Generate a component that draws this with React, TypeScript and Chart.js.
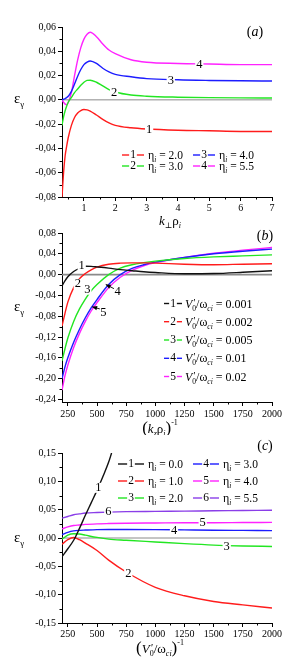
import React, { useEffect, useRef } from 'react';
import { Chart, registerables } from 'chart.js';
Chart.register(...registerables);

// ---------- data: panel (a) ----------
const A_X = [0.3, 0.35, 0.4, 0.45, 0.5, 0.6, 0.7, 0.8, 0.9, 1.0, 1.1, 1.2, 1.4, 1.6, 1.8, 2.0, 2.5, 3.0, 4.0, 5.0, 6.0, 7.0];
const A_ETA_20 = [-0.08, -0.06, -0.046, -0.038, -0.031, -0.021, -0.0145, -0.0108, -0.0088, -0.008, -0.0082, -0.0092, -0.0125, -0.016, -0.019, -0.021, -0.023, -0.024, -0.025, -0.0255, -0.026, -0.026];
const A_ETA_30 = [-0.021, -0.014, -0.009, -0.005, -0.002, 0.002, 0.006, 0.009, 0.012, 0.0145, 0.016, 0.0162, 0.0145, 0.0115, 0.0085, 0.0065, 0.004, 0.003, 0.0022, 0.0018, 0.0016, 0.0015];
const A_ETA_40 = [0.0, 0.0005, 0.001, 0.002, 0.003, 0.007, 0.013, 0.0195, 0.025, 0.029, 0.031, 0.032, 0.030, 0.026, 0.023, 0.021, 0.019, 0.0175, 0.0165, 0.016, 0.0157, 0.0155];
const A_ETA_55 = [0.0, -0.002, -0.0035, -0.004, -0.002, 0.006, 0.02, 0.033, 0.043, 0.05, 0.054, 0.0557, 0.052, 0.046, 0.041, 0.038, 0.033, 0.031, 0.030, 0.0295, 0.029, 0.029];
const A_X_TICKS = [1, 2, 3, 4, 5, 6, 7];
const A_X_MINOR = [0.5, 1.5, 2.5, 3.5, 4.5, 5.5, 6.5];
const A_Y_TICKS = [-0.08, -0.06, -0.04, -0.02, 0, 0.02, 0.04, 0.06];
const A_Y_MINOR = [-0.07, -0.05, -0.03, -0.01, 0.01, 0.03, 0.05];

// ---------- data: panel (b) ----------
const B_X = [200, 225, 250, 300, 350, 400, 450, 500, 600, 700, 800, 900, 1000, 1250, 1500, 1750, 2000];
const B_V_0001 = [-0.022, -0.012, -0.004, 0.006, 0.012, 0.016, 0.0158, 0.0148, 0.0125, 0.0095, 0.0075, 0.0055, 0.004, 0.0015, 0.002, 0.0045, 0.0075];
const B_V_0002 = [-0.099, -0.075, -0.053, -0.025, -0.008, 0.002, 0.009, 0.0145, 0.02, 0.022, 0.0225, 0.0225, 0.022, 0.02, 0.019, 0.02, 0.021];
const B_V_0005 = [-0.166, -0.143, -0.122, -0.09, -0.066, -0.047, -0.031, -0.019, 0.0, 0.0125, 0.019, 0.023, 0.026, 0.031, 0.034, 0.036, 0.038];
const B_V_001 = [-0.2, -0.178, -0.16, -0.13, -0.105, -0.083, -0.064, -0.048, -0.019, 0.0, 0.012, 0.019, 0.024, 0.033, 0.04, 0.045, 0.049];
const B_V_002 = [-0.222, -0.195, -0.174, -0.14, -0.113, -0.09, -0.07, -0.054, -0.025, -0.005, 0.008, 0.017, 0.023, 0.033, 0.041, 0.047, 0.052];
const BC_X_TICKS = [250, 500, 750, 1000, 1250, 1500, 1750, 2000];
const BC_X_MINOR = [375, 625, 875, 1125, 1375, 1625, 1875];
const B_Y_TICKS = [-0.24, -0.2, -0.16, -0.12, -0.08, -0.04, 0, 0.04, 0.08];
const B_Y_MINOR = [-0.22, -0.18, -0.14, -0.1, -0.06, -0.02, 0.02, 0.06];

// ---------- data: panel (c) ----------
const C_X1 = [200, 250, 300, 350, 400, 450, 500, 550, 600, 625];
const C_ETA_00 = [-0.033, -0.019, -0.004, 0.017, 0.04, 0.062, 0.084, 0.108, 0.134, 0.15];
const C_X = [200, 250, 300, 350, 400, 500, 600, 750, 1000, 1250, 1500, 1750, 2000];
const C_ETA_10 = [-0.011, -0.003, 0.001, -0.003, -0.009, -0.022, -0.039, -0.06, -0.087, -0.102, -0.112, -0.118, -0.1235];
const C_ETA_20 = [-0.002, 0.005, 0.0075, 0.007, 0.005, 0.001, -0.002, -0.004, -0.007, -0.01, -0.0125, -0.014, -0.015];
const C_ETA_30 = [0.006, 0.01, 0.0125, 0.0135, 0.014, 0.0148, 0.015, 0.015, 0.0148, 0.0143, 0.0138, 0.0134, 0.013];
const C_ETA_40 = [0.016, 0.0195, 0.022, 0.023, 0.024, 0.025, 0.0255, 0.026, 0.0265, 0.027, 0.027, 0.0273, 0.0275];
const C_ETA_55 = [0.035, 0.038, 0.041, 0.0425, 0.044, 0.045, 0.0457, 0.0465, 0.047, 0.0475, 0.048, 0.0485, 0.049];
const C_Y_TICKS = [-0.15, -0.1, -0.05, 0, 0.05, 0.1, 0.15];
const C_Y_MINOR = [-0.125, -0.075, -0.025, 0.025, 0.075, 0.125];

const RED = '#ff1c1c';
const GREEN = '#22e622';
const BLUE = '#1c1cff';
const MAG = '#ff22ff';
const BLACK = '#111111';
const PURPLE = '#8a3ee8';

const SERIF = '"Liberation Serif", "DejaVu Serif", serif';

type Seg = { t: string; s: number; i?: boolean; dy?: number; dx?: number; na?: boolean };

const fnt = (s: number, i?: boolean) => `${i ? 'italic ' : ''}${s}px ${SERIF}`;

function drawRich(ctx: CanvasRenderingContext2D, segs: Seg[], x: number, y: number, align: 'left' | 'center' | 'right') {
  let w = 0;
  for (const g of segs) {
    ctx.font = fnt(g.s, g.i);
    if (!g.na) w += ctx.measureText(g.t).width;
  }
  let cx = align === 'center' ? x - w / 2 : align === 'right' ? x - w : x;
  ctx.textAlign = 'left';
  ctx.textBaseline = 'alphabetic';
  ctx.fillStyle = '#000';
  for (const g of segs) {
    ctx.font = fnt(g.s, g.i);
    ctx.fillText(g.t, cx + (g.dx || 0), y + (g.dy || 0));
    if (!g.na) cx += ctx.measureText(g.t).width;
  }
}

const eta = (v: string): Seg[] => [
  { t: 'η', s: 12 },
  { t: 'i', s: 7.5, i: true, dy: 3 },
  { t: ' = ' + v, s: 11.5 },
];
const vRatio = (v: string): Seg[] => [
  { t: 'V', s: 12, i: true },
  { t: "'", s: 10, i: true, dy: -2, dx: 0.5, na: true },
  { t: '0', s: 7.5, dy: 3 },
  { t: '/', s: 12 },
  { t: 'ω', s: 12 },
  { t: 'ci', s: 7.5, i: true, dy: 3 },
  { t: ' = ' + v, s: 12 },
];

const PANELS: any[] = [
  {
    key: 'a', top: 0, height: 232, padTop: 27, xAxisH: 35, xPad: 1, zeroW: 1,
    xMin: 0.3, xMax: 7, yMin: -0.08, yMax: 0.06,
    xTicks: A_X_TICKS, xMinor: A_X_MINOR, yTicks: A_Y_TICKS, yMinor: A_Y_MINOR,
    series: [
      { x: A_X, y: A_ETA_20, color: RED },
      { x: A_X, y: A_ETA_30, color: GREEN },
      { x: A_X, y: A_ETA_40, color: BLUE },
      { x: A_X, y: A_ETA_55, color: MAG },
    ],
    labels: [
      { t: '1', x: 3.08, y: -0.0245 },
      { t: '2', x: 1.96, y: 0.0062 },
      { t: '3', x: 3.77, y: 0.0158 },
      { t: '4', x: 4.68, y: 0.0293 },
    ],
    arrows: [],
    legend: {
      cols: [122, 193], rows: [155, 166], symW: 22, gap: 4,
      entries: [
        { n: '1', color: RED, col: 0, row: 0, segs: eta('2.0') },
        { n: '2', color: GREEN, col: 0, row: 1, segs: eta('3.0') },
        { n: '3', color: BLUE, col: 1, row: 0, segs: eta('4.0') },
        { n: '4', color: MAG, col: 1, row: 1, segs: eta('5.5') },
      ],
    },
    title: { x: 255, y: 36, letter: 'a' },
    yTitleY: 99,
    xTitle: { x: 170, y: 225, segs: [
      { t: 'k', s: 13, i: true }, { t: '⊥', s: 8, dy: 3 }, { t: 'ρ', s: 13 }, { t: 'i', s: 8, i: true, dy: 3 },
    ] },
  },
  {
    key: 'b', top: 210, height: 225, padTop: 23, xAxisH: 33, xPad: 2, zeroW: 1.6,
    xMin: 200, xMax: 2000, yMin: -0.245, yMax: 0.08,
    xTicks: BC_X_TICKS, xMinor: BC_X_MINOR, yTicks: B_Y_TICKS, yMinor: B_Y_MINOR,
    series: [
      { x: B_X, y: B_V_0001, color: BLACK },
      { x: B_X, y: B_V_0002, color: RED },
      { x: B_X, y: B_V_0005, color: GREEN },
      { x: B_X, y: B_V_001, color: BLUE },
      { x: B_X, y: B_V_002, color: MAG },
    ],
    labels: [
      { t: '1', x: 369, y: 0.0174 },
      { t: '2', x: 335, y: -0.018 },
      { t: '3', x: 417, y: -0.029 },
      { t: '4', x: 677, y: -0.033 },
      { t: '5', x: 554, y: -0.073 },
    ],
    arrows: [
      { x1: 645, y1: -0.027, x2: 575, y2: -0.019 },
      { x1: 524, y1: -0.066, x2: 458, y2: -0.062 },
    ],
    legend: {
      cols: [164], rows: [303.5, 321.7, 340, 358.3, 376.5], symW: 18, gap: 3,
      entries: [
        { n: '1', color: BLACK, col: 0, row: 0, segs: vRatio('0.001') },
        { n: '2', color: RED, col: 0, row: 1, segs: vRatio('0.002') },
        { n: '3', color: GREEN, col: 0, row: 2, segs: vRatio('0.005') },
        { n: '4', color: BLUE, col: 0, row: 3, segs: vRatio('0.01') },
        { n: '5', color: MAG, col: 0, row: 4, segs: vRatio('0.02') },
      ],
    },
    title: { x: 265, y: 240, letter: 'b' },
    yTitleY: 307,
    xTitle: { x: 160, y: 433, segs: [
      { t: '(', s: 17 }, { t: 'k', s: 13, i: true }, { t: 'z', s: 8, i: true, dy: 3 }, { t: 'ρ', s: 13 },
      { t: 'i', s: 8, i: true, dy: 3 }, { t: ')', s: 17 }, { t: '-1', s: 8, dy: -8 },
    ] },
  },
  {
    key: 'c', top: 430, height: 234, padTop: 23, xAxisH: 41, xPad: 1, zeroW: 1,
    xMin: 200, xMax: 2000, yMin: -0.15, yMax: 0.15,
    xTicks: BC_X_TICKS, xMinor: BC_X_MINOR, yTicks: C_Y_TICKS, yMinor: C_Y_MINOR,
    series: [
      { x: C_X1, y: C_ETA_00, color: BLACK },
      { x: C_X, y: C_ETA_10, color: RED },
      { x: C_X, y: C_ETA_20, color: GREEN },
      { x: C_X, y: C_ETA_30, color: BLUE },
      { x: C_X, y: C_ETA_40, color: MAG },
      { x: C_X, y: C_ETA_55, color: PURPLE },
    ],
    labels: [
      { t: '1', x: 511, y: 0.0885 },
      { t: '2', x: 768, y: -0.0638 },
      { t: '3', x: 1612, y: -0.0155 },
      { t: '4', x: 1160, y: 0.0125 },
      { t: '5', x: 1406, y: 0.0268 },
      { t: '6', x: 597, y: 0.046 },
    ],
    arrows: [],
    legend: {
      cols: [118, 193], rows: [464, 481, 498], symW: 26, gap: 4,
      entries: [
        { n: '1', color: BLACK, col: 0, row: 0, segs: eta('0.0') },
        { n: '2', color: RED, col: 0, row: 1, segs: eta('1.0') },
        { n: '3', color: GREEN, col: 0, row: 2, segs: eta('2.0') },
        { n: '4', color: BLUE, col: 1, row: 0, segs: eta('3.0') },
        { n: '5', color: MAG, col: 1, row: 1, segs: eta('4.0') },
        { n: '6', color: PURPLE, col: 1, row: 2, segs: eta('5.5') },
      ],
    },
    title: { x: 265, y: 450, letter: 'c' },
    yTitleY: 538,
    xTitle: { x: 160, y: 653, segs: [
      { t: '(', s: 17 }, { t: 'V', s: 13, i: true }, { t: "'", s: 11, i: true, dy: -2, dx: 0.5, na: true }, { t: '0', s: 8, dy: 3 },
      { t: '/', s: 13 }, { t: 'ω', s: 13 }, { t: 'ci', s: 8, i: true, dy: 3 }, { t: ')', s: 17 }, { t: '-1', s: 8, dy: -8 },
    ] },
  },
];

const fmtY = (v: number) => (Math.abs(v) < 1e-9 ? 0 : v).toFixed(2).replace('.', ',');

function makeDeco(p: any) {
  return {
    id: 'deco_' + p.key,
    beforeDatasetsDraw(chart: any) {
      const { ctx, chartArea: ca, scales } = chart;
      const zy = scales.y.getPixelForValue(0);
      ctx.save();
      ctx.strokeStyle = '#8a8a8a';
      ctx.lineWidth = p.zeroW;
      ctx.beginPath();
      ctx.moveTo(ca.left, zy);
      ctx.lineTo(ca.right, zy);
      ctx.stroke();
      ctx.restore();
    },
    afterDatasetsDraw(chart: any) {
      const { ctx, scales } = chart;
      const xs = scales.x, ys = scales.y;
      ctx.save();
      for (const l of p.labels) {
        const px = xs.getPixelForValue(l.x), py = ys.getPixelForValue(l.y);
        ctx.font = fnt(12.5);
        const w = ctx.measureText(l.t).width;
        ctx.fillStyle = '#fff';
        ctx.fillRect(px - w / 2 - 1, py - 5, w + 2, 10);
        ctx.fillStyle = '#000';
        ctx.textAlign = 'center';
        ctx.textBaseline = 'middle';
        ctx.fillText(l.t, px, py);
      }
      for (const a of p.arrows) {
        const x1 = xs.getPixelForValue(a.x1), y1 = ys.getPixelForValue(a.y1);
        const x2 = xs.getPixelForValue(a.x2), y2 = ys.getPixelForValue(a.y2);
        ctx.strokeStyle = '#000';
        ctx.fillStyle = '#000';
        ctx.lineWidth = 0.9;
        ctx.beginPath();
        ctx.moveTo(x1, y1);
        ctx.lineTo(x2, y2);
        ctx.stroke();
        const ang = Math.atan2(y2 - y1, x2 - x1);
        const L = 5, W = 2.2;
        ctx.beginPath();
        ctx.moveTo(x2, y2);
        ctx.lineTo(x2 - L * Math.cos(ang) + W * Math.sin(ang), y2 - L * Math.sin(ang) - W * Math.cos(ang));
        ctx.lineTo(x2 - L * Math.cos(ang) - W * Math.sin(ang), y2 - L * Math.sin(ang) + W * Math.cos(ang));
        ctx.closePath();
        ctx.fill();
      }
      const lg = p.legend;
      for (const e of lg.entries) {
        const x0 = lg.cols[e.col];
        const yc = lg.rows[e.row] - p.top;
        ctx.strokeStyle = e.color;
        ctx.lineWidth = 1.4;
        ctx.beginPath();
        ctx.moveTo(x0, yc);
        ctx.lineTo(x0 + lg.symW, yc);
        ctx.stroke();
        ctx.font = fnt(11.5);
        const w = ctx.measureText(e.n).width;
        ctx.fillStyle = '#fff';
        ctx.fillRect(x0 + lg.symW / 2 - w / 2 - 1, yc - 5, w + 2, 10);
        ctx.fillStyle = '#000';
        ctx.textAlign = 'center';
        ctx.textBaseline = 'middle';
        ctx.fillText(e.n, x0 + lg.symW / 2, yc);
        drawRich(ctx, e.segs, x0 + lg.symW + lg.gap, yc + 4, 'left');
      }
      drawRich(ctx, [{ t: '(', s: 14 }, { t: p.title.letter, s: 14, i: true }, { t: ')', s: 14 }], p.title.x, p.title.y - p.top, 'center');
      drawRich(ctx, [{ t: 'ε', s: 15 }, { t: 'γ', s: 9, dy: 4 }], 14, p.yTitleY - p.top + 4, 'left');
      drawRich(ctx, p.xTitle.segs, p.xTitle.x, p.xTitle.y - p.top, 'center');
      ctx.restore();
    },
    afterDraw(chart: any) {
      const { ctx, chartArea: ca, scales } = chart;
      ctx.save();
      ctx.strokeStyle = '#000';
      ctx.lineWidth = 1;
      ctx.beginPath();
      for (const v of p.xMinor) {
        const px = Math.round(scales.x.getPixelForValue(v)) + 0.5;
        ctx.moveTo(px, ca.bottom);
        ctx.lineTo(px, ca.bottom + 2.5);
      }
      for (const v of p.yMinor) {
        const py = Math.round(scales.y.getPixelForValue(v)) + 0.5;
        ctx.moveTo(ca.left, py);
        ctx.lineTo(ca.left - 2.5, py);
      }
      ctx.stroke();
      ctx.restore();
    },
  };
}

function buildConfig(p: any): any {
  return {
    type: 'line',
    data: {
      datasets: p.series.map((s: any) => ({
        data: s.x.map((xv: number, i: number) => ({ x: xv, y: s.y[i] })),
        borderColor: s.color,
        borderWidth: 1.4,
        pointRadius: 0,
        fill: false,
        cubicInterpolationMode: 'monotone',
      })),
    },
    options: {
      animation: false,
      responsive: false,
      events: [],
      layout: { padding: { top: p.padTop, right: 18, left: 0, bottom: 0 } },
      plugins: { legend: { display: false }, tooltip: { enabled: false } },
      scales: {
        x: {
          type: 'linear',
          min: p.xMin,
          max: p.xMax,
          afterBuildTicks: (s: any) => { s.ticks = p.xTicks.map((v: number) => ({ value: v })); },
          afterFit: (s: any) => { s.height = p.xAxisH; },
          grid: { drawOnChartArea: false, drawTicks: true, tickLength: 4, color: '#000' },
          border: { color: '#000', width: 1 },
          ticks: {
            font: { family: SERIF, size: 10 },
            color: '#000',
            padding: p.xPad,
            maxRotation: 0,
            autoSkip: false,
            callback: (v: number) => String(v),
          },
        },
        y: {
          type: 'linear',
          min: p.yMin,
          max: p.yMax,
          afterBuildTicks: (s: any) => { s.ticks = p.yTicks.map((v: number) => ({ value: v })); },
          afterFit: (s: any) => { s.width = 62; },
          grid: { drawOnChartArea: false, drawTicks: true, tickLength: 4, color: '#000' },
          border: { color: '#000', width: 1 },
          ticks: {
            font: { family: SERIF, size: 10 },
            color: '#000',
            padding: 2,
            autoSkip: false,
            callback: (v: number) => fmtY(v),
          },
        },
      },
    },
    plugins: [makeDeco(p)],
  };
}

export default function App() {
  const r0 = useRef<HTMLCanvasElement>(null);
  const r1 = useRef<HTMLCanvasElement>(null);
  const r2 = useRef<HTMLCanvasElement>(null);
  const refs = [r0, r1, r2];
  useEffect(() => {
    const charts = PANELS.map((p, i) => new Chart(refs[i].current as HTMLCanvasElement, buildConfig(p)));
    return () => charts.forEach((c) => c.destroy());
  }, []);
  return (
    <div style={{ position: 'absolute', left: 0, top: 0, width: 290, height: 664, background: '#fff' }}>
      {PANELS.map((p, i) => (
        <canvas
          key={p.key}
          ref={refs[i]}
          width={290}
          height={p.height}
          style={{ position: 'absolute', left: 0, top: p.top, width: 290, height: p.height }}
        />
      ))}
    </div>
  );
}
